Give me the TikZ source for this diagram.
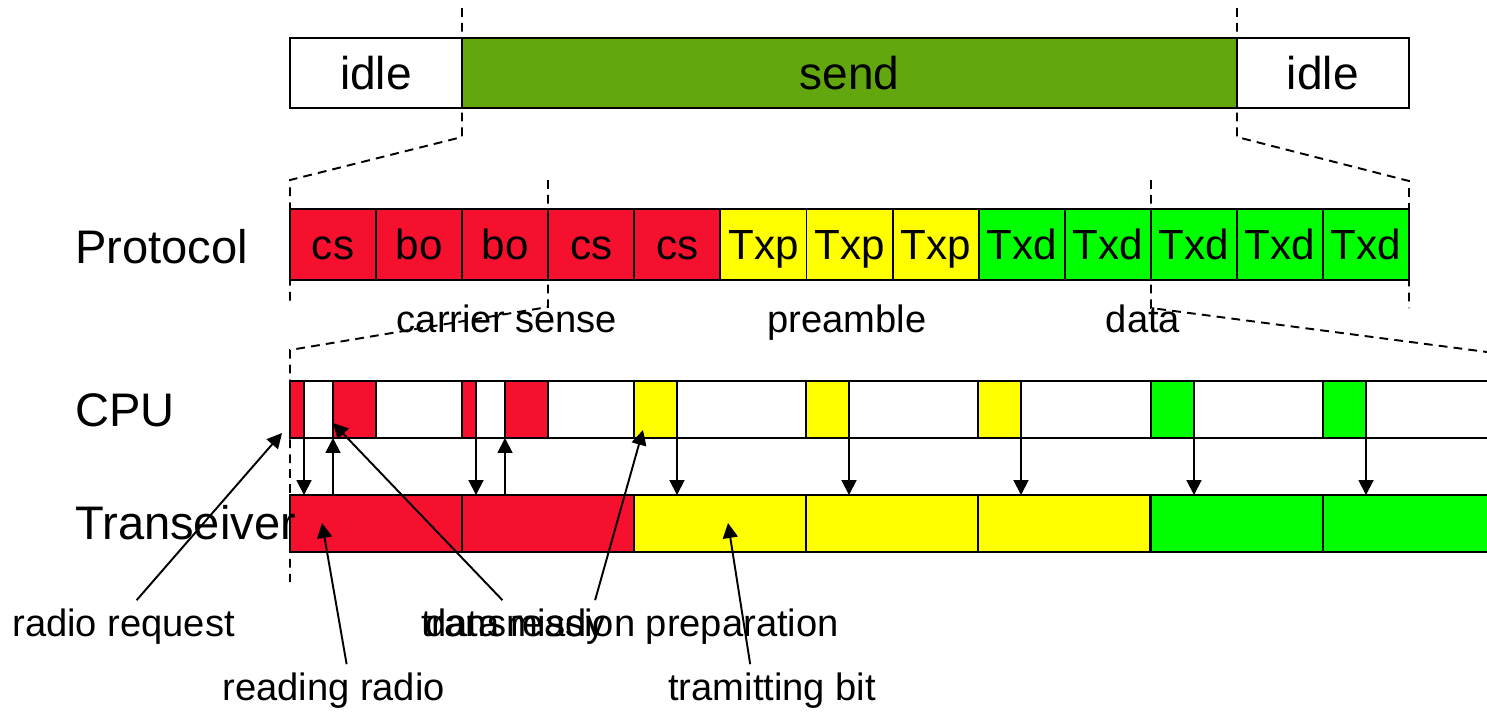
\documentclass[tikz,border=0pt]{standalone}
\usepackage{fontspec}
\setmainfont{Liberation Sans}
\usetikzlibrary{arrows.meta, positioning}

\definecolor{csred}{RGB}{245,17,45}
\definecolor{senddark}{RGB}{99,167,15}
\definecolor{txyellow}{RGB}{255,255,0}
\definecolor{txgreen}{RGB}{0,255,0}

\tikzset{
>={Triangle[length=8.5pt,width=8.5pt]}, % filled arrow heads
box/.style={draw, line width=1.1pt, inner sep=0pt, outer sep=0pt, anchor=north west, text depth=0pt},
topbox/.style={box, minimum height=1.4cm, text height=18.8pt, font=\fontsize{26.2}{30}\selectfont},
cell/.style={box, minimum width=1.7216cm, minimum height=1.42cm, text height=17.2pt,
  font=\fontsize{24}{28}\selectfont},
cpubox/.style={box, minimum height=1.14cm},
trxbox/.style={box, minimum width=3.44cm, minimum height=1.14cm},
rowlabel/.style={anchor=west, inner sep=0pt, text height=19.3pt, text depth=0pt,
  font=\fontsize{26.8}{32}\selectfont},
phase/.style={inner sep=0pt, text height=15.6pt, text depth=0pt, font=\fontsize{21.7}{26}\selectfont},
note/.style={phase, anchor=west, inner ysep=5pt},
zoomline/.style={line width=1.1pt, dash pattern=on 5pt off 3.5pt},
signal/.style={->, line width=1.1pt},
callout/.style={->, line width=1.1pt},
}

\begin{document}
\begin{tikzpicture}[x=0.02cm, y=-0.02cm]%one unit is one pixel, y runs downwards
  \useasboundingbox (0,0) rectangle (1487,711);

  % zoom guides between the rows
  \draw[zoomline] (462,8) -- (462,137) -- (290,180) -- (290,305);
  \draw[zoomline] (1237,8) -- (1237,137) -- (1409,181) -- (1409,308);
  \draw[zoomline] (548,180) -- (548,307) -- (290,350) -- (290,582);
  \draw[zoomline] (1151,180) -- (1151,308) -- (1487,352);

  % top level states
  \node[topbox, minimum width=3.44cm] (idleA) at (290,38) {idle};
  \node[topbox, minimum width=15.5cm, fill=senddark, right=0pt of idleA] (send) {send};
  \node[topbox, minimum width=3.44cm, right=0pt of send] (idleB) {idle};

  % protocol slots
  \foreach \lbl/\col [count=\i from 0] in {cs/csred, bo/csred, bo/csred, cs/csred, cs/csred,
      Txp/txyellow, Txp/txyellow, Txp/txyellow,
      Txd/txgreen, Txd/txgreen, Txd/txgreen, Txd/txgreen, Txd/txgreen}
    \node[cell, fill=\col] (p\i) at ({290+86.08*\i},209) {\lbl};

  \node[phase] (cslbl) at (507,319) {carrier sense};
  \node[phase] (prelbl) at (847,319) {preamble};
  \node[phase] (datalbl) at (1143,319) {data};

  % cpu activity
  \node[cpubox, minimum width=24.4cm] (cpu) at (290,381) {};
  \foreach \xs/\w/\col [count=\i] in {290/0.28cm/csred, 333/0.86cm/csred, 462/0.28cm/csred,
      505/0.86cm/csred, 634/0.86cm/txyellow, 806/0.86cm/txyellow, 978/0.86cm/txyellow,
      1151/0.86cm/txgreen, 1323/0.86cm/txgreen}
    \node[cpubox, fill=\col, minimum width=\w] (c\i) at (\xs,381) {};

  % transceiver activity
  \foreach \xs/\col [count=\i] in {290/csred, 462/csred, 634/txyellow, 806/txyellow,
      978/txyellow, 1151/txgreen, 1323/txgreen}
    \node[trxbox, fill=\col] (t\i) at (\xs,495) {};

  % cpu <-> transceiver
  \foreach \c/\t in {1/1, 3/2, 5/3, 6/4, 7/5, 8/6, 9/7}
    \draw[signal] (c\c.south east) -- (c\c.south east |- t\t.north);
  \foreach \c/\t in {2/1, 4/2}
    \draw[signal] (c\c.south west |- t\t.north) -- (c\c.south west);

  \node[rowlabel] (protolbl) at (75,247) {Protocol};
  \node[rowlabel] (cpulbl) at (75,410) {CPU};
  \node[rowlabel] (trxlbl) at (75,523) {Transeiver};

  % annotations
  \node[note] (req) at (12,623) {radio request};
  \node[note] (read) at (222,687) {reading radio};
  \node[note] (ready) at (425,623) {data ready};
  \node[note] (prep) at (421,623) {transmission preparation};
  \node[note] (bit) at (668,687) {tramitting bit};

  \coordinate (reqtip) at (282,433);
  \coordinate (readtip) at (322,523);
  \coordinate (readytip) at (333,423);
  \coordinate (preptip) at (643,430);
  \coordinate (bittip) at (728,523);

  \draw[callout] ([xshift=0.26cm]req.north) -- (reqtip);
  \draw[callout] ([xshift=0.26cm]read.north) -- (readtip);
  \draw[callout] ([xshift=-0.26cm]ready.north) -- (readytip);
  \draw[callout] ([xshift=-0.7cm]prep.north) -- (preptip);
  \draw[callout] ([xshift=-0.44cm]bit.north) -- (bittip);
\end{tikzpicture}
\end{document}
